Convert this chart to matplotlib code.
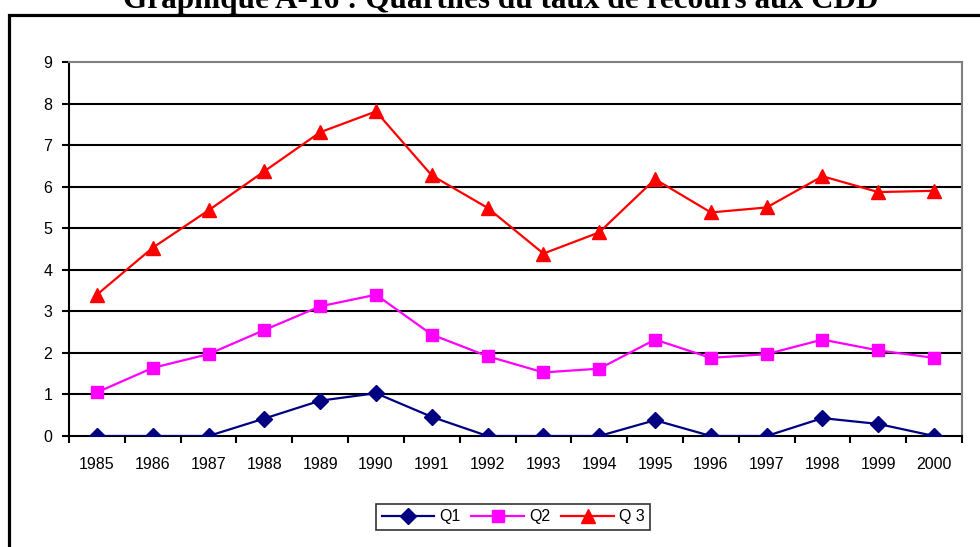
import matplotlib
matplotlib.use("Agg")
import matplotlib.pyplot as plt
from matplotlib.patches import Rectangle
import numpy as np

years = ["1985", "1986", "1987", "1988", "1989", "1990", "1991", "1992",
         "1993", "1994", "1995", "1996", "1997", "1998", "1999", "2000"]
q1 = [0, 0, 0, 0.42, 0.85, 1.03, 0.46, 0, 0, 0, 0.38, 0, 0, 0.43, 0.29, 0]
q2 = [1.05, 1.64, 1.97, 2.55, 3.12, 3.40, 2.44, 1.92, 1.53, 1.62, 2.32, 1.88, 1.97, 2.32, 2.06, 1.88]
q3 = [3.40, 4.53, 5.43, 6.37, 7.31, 7.81, 6.27, 5.49, 4.39, 4.90, 6.18, 5.38, 5.50, 6.25, 5.87, 5.90]
yticks = list(range(0, 10))

plt.rcParams["font.family"] = ["Liberation Sans", "DejaVu Sans"]

fig = plt.figure(figsize=(9.8, 5.47), dpi=100)
ax = fig.add_axes([69 / 980, 111 / 547, 893 / 980, 374 / 547])

x = np.arange(len(years))
ax.plot(x, q1, color="#000080", lw=1.6, marker="D", ms=8, label="Q1", zorder=5)
ax.plot(x, q2, color="#FF00FF", lw=1.6, marker="s", ms=8, label="Q2", zorder=4)
ax.plot(x, q3, color="#FF0000", lw=1.6, marker="^", ms=10, label="Q 3", zorder=3)

ax.set_xlim(-0.5, len(years) - 0.5)
ax.set_ylim(0, 9)
ax.set_yticks(yticks)
ax.set_yticklabels([str(t) for t in yticks], fontsize=11.5)
for t in yticks[1:-1]:
    ax.axhline(t, color="black", lw=1.5, zorder=1)

# category labels centred, ticks at the boundaries
ax.set_xticks(x)
ax.set_xticklabels(years, fontsize=11.5)
ax.tick_params(axis="x", which="major", length=0, pad=15)
ax.set_xticks(np.arange(-0.5, len(years)), minor=True)
ax.tick_params(axis="x", which="minor", length=5, width=1.5, direction="out")
ax.tick_params(axis="y", length=5, width=1.5, direction="out", pad=7)

ax.spines["left"].set_linewidth(1.5)
ax.spines["bottom"].set_linewidth(1.5)
ax.spines["top"].set_color("#808080")
ax.spines["right"].set_color("#808080")
ax.spines["top"].set_linewidth(1.5)
ax.spines["right"].set_linewidth(1.5)

leg = ax.legend(loc="center", bbox_to_anchor=(513 / 980, 30 / 547),
                bbox_transform=fig.transFigure, ncol=3, fontsize=11.5,
                frameon=True, fancybox=False, handlelength=3.3,
                columnspacing=0.7, handletextpad=0.3, borderpad=0.35)
leg.get_frame().set_edgecolor("black")
leg.get_frame().set_linewidth(1.2)

# outer frame around the chart
fig.patches.append(Rectangle((9 / 980, -0.2), 1.2, 1.2 + (547 - 15) / 547 - 1,
                             transform=fig.transFigure, fill=False,
                             edgecolor="black", lw=2.3, clip_on=False))

fig.text(501 / 980, 1 - 8 / 547, "Graphique A-16 : Quartiles du taux de recours aux CDD",
         ha="center", va="baseline", fontsize=22.5, fontweight="bold",
         family=["Liberation Serif", "DejaVu Serif"])

fig.savefig("out.png", dpi=100)
